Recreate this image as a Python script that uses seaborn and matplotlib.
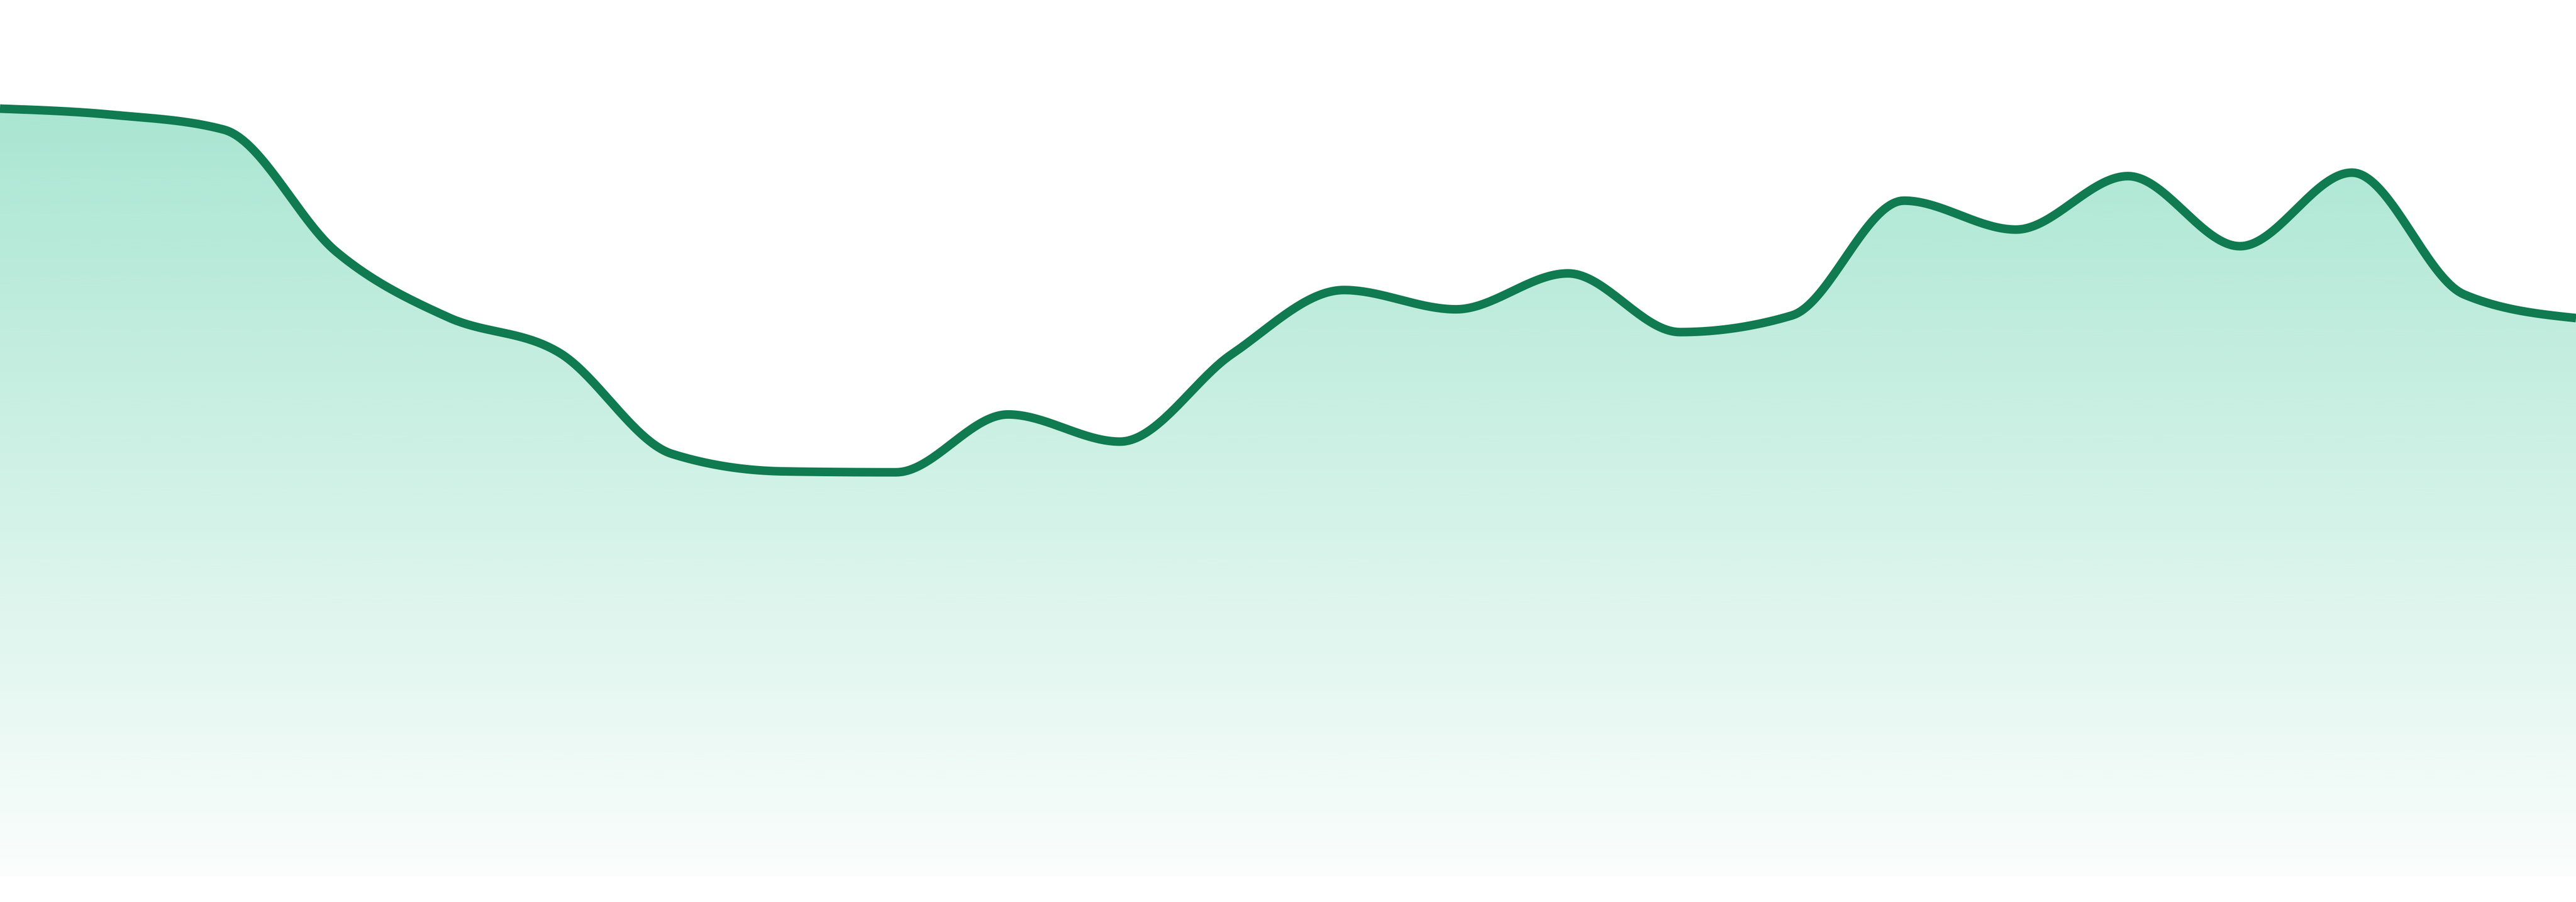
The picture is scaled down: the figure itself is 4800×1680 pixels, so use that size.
import numpy as np
import pandas as pd
import matplotlib
matplotlib.use("Agg")
import matplotlib.pyplot as plt
import seaborn as sns

# values (0 = base of the area, 100 = top of plot)
points = list(range(24))
values = [87.6, 86.9, 85.2, 71.3, 63.8, 59.7, 48.2, 46.2, 46.1, 52.7, 49.6, 59.6,
          66.9, 64.7, 68.8, 62.1, 64.0, 77.1, 73.8, 79.9, 71.9, 80.3, 66.4, 63.7]

line_color = "#107a50"
fill_color = "#10b981"


def monotone_x(x, y, n=40):
    # d3-style monotone cubic, so peaks stay on the data points
    x = np.asarray(x, float)
    y = np.asarray(y, float)
    h = np.diff(x)
    s = np.diff(y) / h
    t = np.zeros_like(y)
    for i in range(1, len(y) - 1):
        p = (s[i - 1] * h[i] + s[i] * h[i - 1]) / (h[i - 1] + h[i])
        t[i] = (np.sign(s[i - 1]) + np.sign(s[i])) * min(abs(s[i - 1]), abs(s[i]), 0.5 * abs(p))
    t[0] = (3 * s[0] - t[1]) / 2
    t[-1] = (3 * s[-1] - t[-2]) / 2
    xs, ys = [], []
    for i in range(len(h)):
        u = np.linspace(0, 1, n, endpoint=(i == len(h) - 1))
        h00 = 2 * u**3 - 3 * u**2 + 1
        h10 = u**3 - 2 * u**2 + u
        h01 = -2 * u**3 + 3 * u**2
        h11 = u**3 - u**2
        xs.append(x[i] + u * h[i])
        ys.append(h00 * y[i] + h10 * h[i] * t[i] + h01 * y[i + 1] + h11 * h[i] * t[i + 1])
    return np.concatenate(xs), np.concatenate(ys)


sx, sy = monotone_x(points, values)
smooth = pd.DataFrame({"x": sx, "y": sy})

sns.set_style("white")
fig = plt.figure(figsize=(24, 8.4), dpi=200)
ax = fig.add_axes([0, 48 / 1680, 1, 1632 / 1680])
ax.set_xlim(0, 23)
ax.set_ylim(0, 100)

# vertical gradient fill clipped to the area under the curve
top = max(values)
grad_y = np.linspace(0, 100, 400)
alpha = np.clip(0.02 + 0.34 * grad_y / top, 0, 0.36)
rgba = np.zeros((400, 1, 4))
rgba[..., :3] = matplotlib.colors.to_rgb(fill_color)
rgba[:, 0, 3] = alpha
img = ax.imshow(rgba, extent=(0, 23, 0, 100), origin="lower", aspect="auto",
                interpolation="bilinear", zorder=1)
poly = ax.fill_between(sx, sy, 0, color="none", lw=0)
clip = matplotlib.patches.PathPatch(poly.get_paths()[0], transform=ax.transData,
                                    facecolor="none", edgecolor="none")
ax.add_patch(clip)
img.set_clip_path(clip)

sns.lineplot(data=smooth, x="x", y="y", ax=ax, color=line_color, lw=5.76,
             sort=False, zorder=3, solid_capstyle="butt")

ax.set_axis_off()
fig.savefig("out.png", dpi=200, facecolor="white")
